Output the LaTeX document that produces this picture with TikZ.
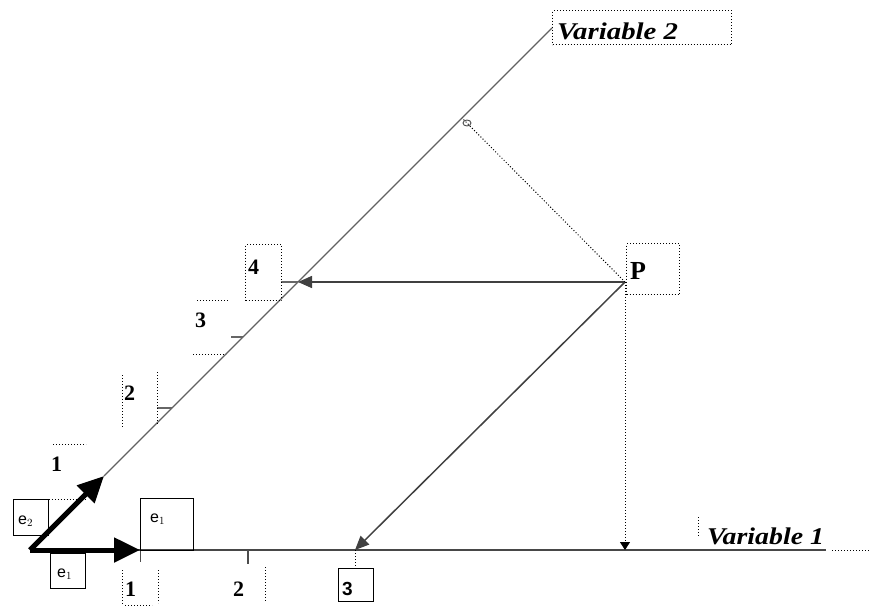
\documentclass[tikz,border=0pt]{standalone}
\usepackage{fontspec}
\setmainfont{Liberation Serif}
\newfontfamily\sansf{Liberation Sans}
\usetikzlibrary{arrows.meta}
\begin{document}
\begin{tikzpicture}[x=1pt,y=-1pt,
  axisline/.style={draw=black!72,line width=1.9pt},
  diagline/.style={draw=black!62,line width=1.1pt},
  basisarrow/.style={draw=black,line width=5pt,-{Triangle[length=26pt,width=24pt]}},
  parr/.style={draw=black!75,line width=1.5pt,-{Triangle[length=14pt,width=12pt]}},
  dotln/.style={dotted,line width=1pt},
  solidbox/.style={draw,line width=0.9pt,inner sep=0pt,anchor=north west},
  dotbox/.style={draw,dotted,line width=1pt,inner sep=0pt,anchor=north west},
  num/.style={font=\bfseries\fontsize{22}{22}\selectfont,inner sep=0pt,anchor=base west},
  evar/.style={font=\sansf\fontsize{16}{16}\selectfont,inner sep=0pt,anchor=base west},
  varlab/.style={font=\bfseries\itshape\fontsize{24}{24}\selectfont,inner sep=0pt,anchor=base west},
  tickln/.style={draw=black!70,line width=1.4pt}
]
\useasboundingbox (0,0) rectangle (871,606);

% key points
\coordinate (O) at (30,550);
\coordinate (E1) at (140,550);
\coordinate (E2) at (104,476);
\coordinate (X1end) at (826,550);
\coordinate (X1dot) at (871,550);
\coordinate (Y2end) at (552,28);
\coordinate (P) at (625,282);
\coordinate (A4) at (298,282);
\coordinate (B3) at (355,550);
\coordinate (F) at (462,118);
\coordinate (Pfoot) at (625,550);

% axes
\draw[axisline] (O) -- (X1end);
\draw[dotln] (X1end) ++(6,0) -- (X1dot);
\draw[diagline] (E2) -- (Y2end);

% ticks on horizontal axis
\draw[draw=black!70,line width=1pt] (E1) -- ++(0,12);
\draw[tickln] (248,550) -- (248,564);
% ticks on diagonal axis
\draw[draw=black!60,line width=1.1pt] (172,408) -- (157,408);
\draw[draw=black!60,line width=1.1pt] (243,337) -- (231,337);
\draw[draw=black!60,line width=1.1pt] (A4) -- (281,282);

% basis vectors
\draw[basisarrow] (O) -- (E1);
\draw[basisarrow] (O) -- (E2);

% projections from P
\draw[parr] (P) -- (A4);
\draw[parr] (P) -- (B3);
\draw[dotln,-{Triangle[length=8pt,width=10pt]}] (P) -- (Pfoot);
\draw[dotln] (P) -- (F);
\draw[line width=0.9pt,draw=black!70] (467,123) ellipse (4pt and 3pt);

% P label and box
\node[dotbox,minimum width=53pt,minimum height=51pt] (Pbox) at (626,243) {};
\node[font=\bfseries\fontsize{26}{26}\selectfont,inner sep=0pt,anchor=base west] (Plab) at (630,279) {P};

% Variable labels
\node[dotbox,minimum width=179pt,minimum height=34pt] (V2box) at (552,10) {};
\node[varlab] (V2) at (557,39) {\scalebox{1.2}[1]{Variable 2}};
\node[varlab] (V1) at (707,544) {\scalebox{1.16}[1]{Variable 1}};
\draw[dotln] (698,517) -- (698,537);

% numbers on diagonal axis
\node[num] (d1) at (51,471) {1};
\draw[dotln] (53,444) -- (86,444);
\node[num] (d2) at (124,400) {2};
\draw[dotln] (122,375) -- (122,428);
\draw[dotln] (157,372) -- (157,424);
\node[num] (d3) at (195,327) {3};
\draw[dotln] (197,300) -- (229,300);
\draw[dotln] (193,354) -- (226,354);
\node[dotbox,minimum width=36pt,minimum height=56pt] (d4box) at (245,244) {};
\node[num] (d4) at (248,274) {4};

% numbers on horizontal axis
\node[num] (h1) at (125,596) {1};
\draw[dotln] (122,570) -- (122,605);
\draw[dotln] (158,570) -- (158,603);
\draw[dotln] (125,605) -- (152,605);
\node[num] (h2) at (233,596) {2};
\draw[dotln] (265,567) -- (265,601);
\node[solidbox,minimum width=35pt,minimum height=33pt] (h3box) at (338,568) {};
\node[font=\sansf\bfseries\fontsize{19}{19}\selectfont,inner sep=0pt,anchor=base west] (h3) at (342,595) {3};
\draw[dotln] (B3) -- (h3box.north -| B3);

% basis vector labels
\node[solidbox,minimum width=35pt,minimum height=36pt] (e2box) at (13,499) {};
\node[evar] (e2lab) at (18,524) {e$_{2}$};
\draw[dotln] (e2box.north east) -- ++(37,0);
\node[solidbox,minimum width=35pt,minimum height=35pt] (e1box) at (50,553) {};
\node[evar] (e1lab) at (57,577) {e$_{1}$};
\node[solidbox,minimum width=53pt,minimum height=52pt] (e1big) at (140,498) {};
\node[evar] (e1biglab) at (150,522) {e$_{1}$};

\end{tikzpicture}
\end{document}
